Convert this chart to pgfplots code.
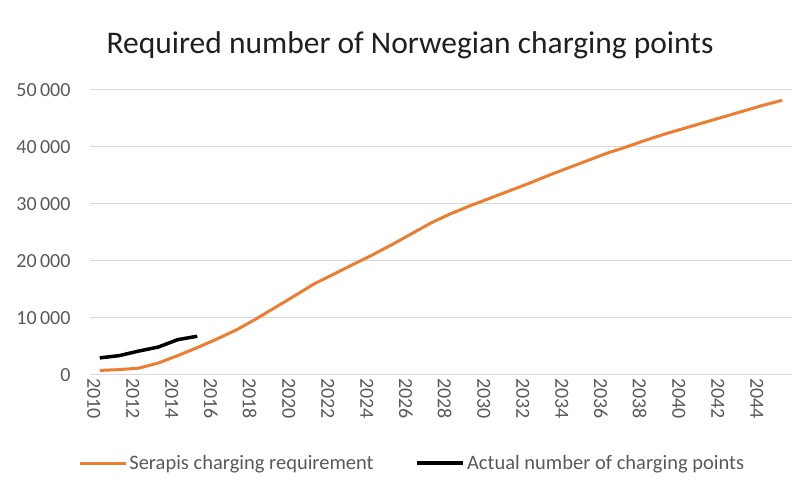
\documentclass[border=0pt]{standalone}
\usepackage{fontspec}
\setmainfont{Carlito}
\usepackage{pgfplots}
\pgfplotsset{compat=1.18}
\definecolor{serapis}{HTML}{ED7D31}
\definecolor{gridgray}{HTML}{D9D9D9}
\definecolor{labelgray}{HTML}{595959}

\begin{document}
\begin{tikzpicture}[x=1pt,y=1pt]
\useasboundingbox (0,0) rectangle (800,486);
\node[font=\fontsize{31.5}{36}\selectfont, text=black!88] at (410,441) {Required number of Norwegian charging points};
\begin{axis}[
  at={(90pt,111pt)}, anchor=south west,
  scale only axis, width=702pt, height=285pt,
  xmin=2009.5, xmax=2045.5, ymin=0, ymax=50000,
  xtick={2010,2012,...,2044},
  ytick={0,10000,...,50000},
  ymajorgrids, grid style={gridgray, line width=1pt},
  axis line style={draw=none},
  major tick length=0pt,
  /pgf/number format/assume math mode=true,
  scaled y ticks=false,
  tick label style={font=\fontsize{20}{24}\selectfont, text=labelgray},
  x tick label style={rotate=-90, anchor=west, /pgf/number format/1000 sep={}, yshift=-6pt},
  y tick label style={/pgf/number format/1000 sep={\,}, xshift=-16pt},
  legend style={at={(0.459,-0.309)}, anchor=center, draw=none, fill=none,
    legend columns=2, font=\fontsize{20.5}{24}\selectfont, text=labelgray,
    /tikz/every even column/.append style={column sep=40pt}},
  legend image code/.code={\draw[#1] (0pt,0pt) -- (46pt,0pt);},
]
% Serapis model requirement
\addplot[serapis, line width=3pt, line join=round] coordinates {
  (2010,800) (2011,950) (2012,1200) (2013,2100) (2014,3400) (2015,4800)
  (2016,6300) (2017,7900) (2018,9800) (2019,11850) (2020,13900)
  (2021,16000) (2022,17700) (2023,19400) (2024,21100) (2025,22900)
  (2026,24800) (2027,26700) (2028,28300) (2029,29700) (2030,31000)
  (2031,32300) (2032,33600) (2033,35000) (2034,36300) (2035,37600)
  (2036,38900) (2037,40000) (2038,41200) (2039,42300) (2040,43300)
  (2041,44300) (2042,45300) (2043,46300) (2044,47300) (2045,48200)
};
\addlegendentry{Serapis charging requirement}
% Installed charging points
\addplot[black, line width=3.5pt, line join=round] coordinates {
  (2010,3000) (2011,3400) (2012,4200) (2013,4900) (2014,6200) (2015,6800)
};
\addlegendentry{Actual number of charging points}
\end{axis}
\end{tikzpicture}
\end{document}
